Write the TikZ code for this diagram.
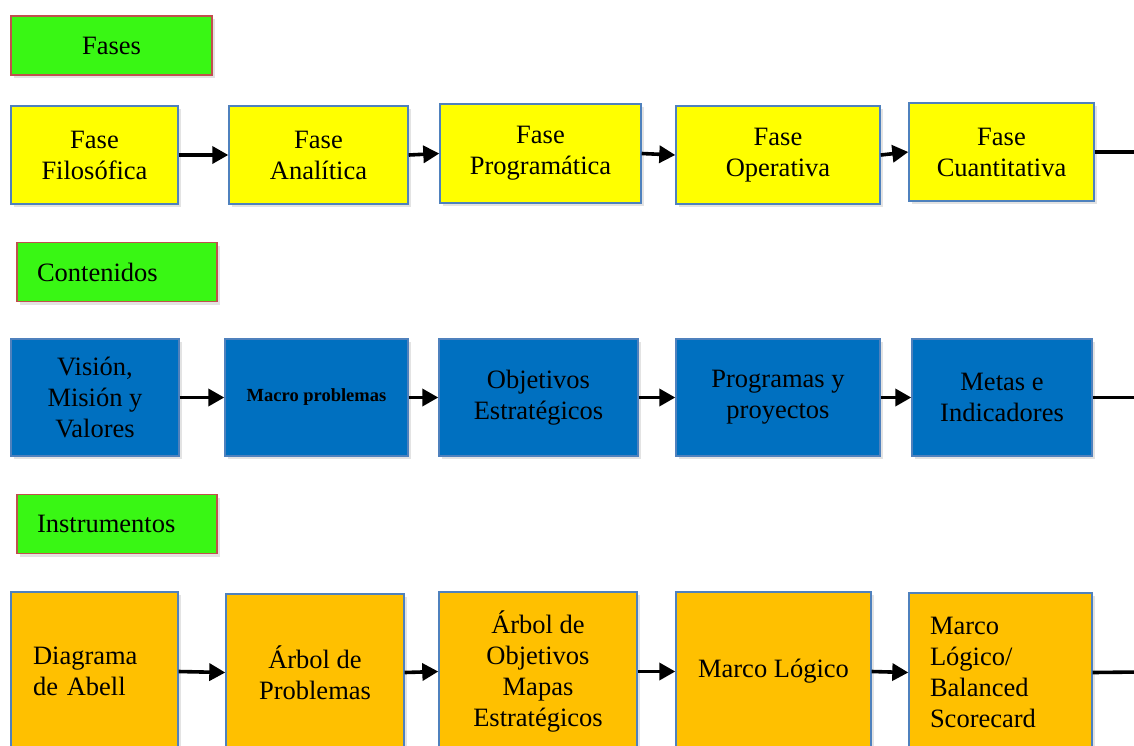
\documentclass[tikz,border=0pt]{standalone}
\usepackage{fontspec}
\setmainfont{Liberation Serif}
\usetikzlibrary{arrows.meta,shadows}

\definecolor{phasefill}{HTML}{FFFF00}
\definecolor{contentfill}{HTML}{0070C0}
\definecolor{toolfill}{HTML}{FFC000}
\definecolor{tagfill}{HTML}{39F714}
\definecolor{tagedge}{HTML}{C0504D}
\definecolor{boxedge}{HTML}{4F81BD}

\tikzset{
  basebox/.style={draw=boxedge, line width=1.4pt, inner sep=0pt, align=center,
    font=\fontsize{26.5}{31}\selectfont,
    drop shadow={opacity=0.22, shadow xshift=2.5pt, shadow yshift=-3pt}},
  tagbox/.style={basebox, draw=tagedge, fill=tagfill, minimum height=59pt},
  phasebox/.style={basebox, fill=phasefill},
  contentbox/.style={basebox, fill=contentfill},
  toolbox/.style={basebox, fill=toolfill},
  flow/.style={line width=3.6pt, -{Triangle[length=16pt,width=17pt]}},
  tail/.style={line width=3.6pt}
}

\begin{document}
\begin{tikzpicture}[x=1pt,y=1pt]
\clip (0,0) rectangle (1134,-745);
\useasboundingbox (0,0) rectangle (1134,-745);

% section tags
\node[tagbox, minimum width=201pt] (tagA) at (111.5,-45.5) {Fases};
\node[tagbox, text width=160pt, inner xsep=20pt, align=left] (tagB) at (117,-272) {Contenidos};
\node[tagbox, text width=160pt, inner xsep=20pt, align=left] (tagC) at (117,-524) {Instrumentos};

% phases
\node[phasebox, minimum width=167pt, minimum height=98pt] (f1) at (94.5,-155) {Fase\\Filosófica};
\node[phasebox, minimum width=179pt, minimum height=98pt] (f2) at (318.5,-155) {Fase\\Analítica};
\node[phasebox, minimum width=201pt, minimum height=99pt] (f3) at (540.5,-153.5) {Fase\\Programática};
\node[phasebox, minimum width=204pt, minimum height=98pt] (f4) at (778,-155) {Fase\\Operativa};
\node[phasebox, minimum width=185pt, minimum height=98pt] (f5) at (1001.5,-152) {Fase\\Cuantitativa};
\coordinate (fend) at (1140,-152);

% contents
\node[contentbox, minimum width=168pt, minimum height=117pt] (c1) at (95,-397.5) {Visión,\\Misión y\\Valores};
\node[contentbox, minimum width=183pt, minimum height=117pt, font=\fontsize{18.5}{22}\selectfont\bfseries] (c2) at (316.5,-397.5) {Macro problemas};
\node[contentbox, minimum width=199pt, minimum height=117pt] (c3) at (538.5,-397.5) {Objetivos\\Estratégicos};
\node[contentbox, minimum width=204pt, minimum height=117pt] (c4) at (778,-397.5) {Programas y\\proyectos};
\node[contentbox, minimum width=180pt, minimum height=117pt] (c5) at (1002,-397.5) {Metas e\\Indicadores};
\coordinate (cend) at (1140,-397.5);

% instruments
\node[toolbox, text width=123pt, inner xsep=22pt, minimum height=159pt, align=left] (i1) at (94.5,-671.5) {Diagrama\\de Abell};
\node[toolbox, minimum width=178pt, minimum height=157pt] (i2) at (315,-672.5) {Árbol de\\Problemas};
\node[toolbox, minimum width=198pt, minimum height=159pt] (i3) at (538,-671.5) {Árbol de\\Objetivos\\Mapas\\Estratégicos};
\node[toolbox, minimum width=195pt, minimum height=159pt] (i4) at (773.5,-671.5) {Marco Lógico};
\node[toolbox, text width=141pt, inner xsep=21pt, minimum height=159pt, align=left] (i5) at (1000.5,-672.5) {Marco\\Lógico/\\Balanced\\Scorecard};
\coordinate (iend) at (1140,-672);

% connectors
\draw[flow] (f1) -- (f2);
\draw[flow] (f2.east) -- (f3.west);
\draw[flow] (f3.east) -- (f4.west);
\draw[flow] (f4.east) -- (f5.west);
\draw[tail] (f5.east) -- (fend);

\draw[flow] (c1) -- (c2);
\draw[flow] (c2) -- (c3);
\draw[flow] (c3) -- (c4);
\draw[flow] (c4) -- (c5);
\draw[tail] (c5.east) -- (cend);

\draw[flow] (i1.east) -- (i2.west);
\draw[flow] (i2.east) -- (i3.west);
\draw[flow] (i3.east) -- (i4.west);
\draw[flow] (i4.east) -- (i5.west);
\draw[tail] (i5.east) -- (iend);
\end{tikzpicture}
\end{document}
